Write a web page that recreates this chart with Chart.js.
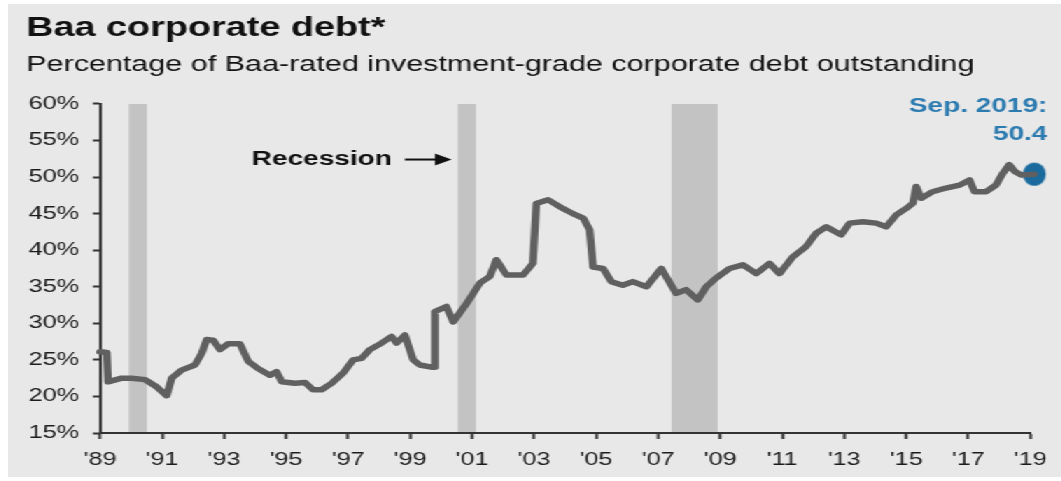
<!DOCTYPE html>
<html>
<head>
<meta charset="utf-8">
<script src="https://cdn.jsdelivr.net/npm/chart.js@4"></script>
<style>
  html, body { margin: 0; padding: 0; background: #fff; }
  body { width: 1061px; height: 481px; overflow: hidden; position: relative; }
  #panel {
    position: absolute; left: 8px; top: 4px;
    width: 752px; height: 473px;
    background: #e8e8e8;
    transform: scaleX(1.4); transform-origin: 0 0;
  }
</style>
</head>
<body>
<div id="panel"><canvas id="chart"></canvas></div>
<script>
// Baa share of investment-grade corporate debt, %
const years = [1989.00, 1989.22, 1989.26, 1989.70, 1990.02, 1990.45, 1990.83, 1991.15, 1991.31, 1991.63,
  1992.06, 1992.28, 1992.44, 1992.65, 1992.87, 1993.13, 1993.51, 1993.78, 1994.10, 1994.48,
  1994.69, 1994.86, 1995.28, 1995.61, 1995.87, 1996.14, 1996.47, 1996.84, 1997.16, 1997.43,
  1997.70, 1998.08, 1998.40, 1998.56, 1998.83, 1999.10, 1999.31, 1999.69, 1999.76, 1999.80,
  2000.17, 2000.39, 2000.82, 2001.25, 2001.57, 2001.78, 2002.11, 2002.64, 2002.96, 2003.07,
  2003.45, 2003.93, 2004.25, 2004.58, 2004.79, 2004.90, 2005.22, 2005.49, 2005.86, 2006.18,
  2006.62, 2007.10, 2007.58, 2007.90, 2008.28, 2008.55, 2008.87, 2009.30, 2009.73, 2010.16,
  2010.59, 2010.91, 2011.34, 2011.77, 2012.09, 2012.42, 2012.90, 2013.17, 2013.60, 2014.03,
  2014.35, 2014.67, 2014.99, 2015.21, 2015.32, 2015.48, 2015.85, 2016.28, 2016.72, 2017.04,
  2017.20, 2017.57, 2017.89, 2018.11, 2018.32, 2018.49, 2018.70, 2019.13];
const baaShare = [26.1, 26.0, 22.0, 22.5, 22.5, 22.3, 21.3, 20.1, 22.5, 23.6,
  24.3, 25.9, 27.8, 27.7, 26.4, 27.2, 27.2, 24.8, 23.8, 22.9,
  23.4, 22.0, 21.8, 21.9, 20.9, 20.9, 21.8, 23.2, 25.0, 25.2,
  26.4, 27.3, 28.2, 27.3, 28.4, 25.0, 24.3, 24.0, 24.0, 31.6,
  32.3, 30.2, 32.7, 35.5, 36.4, 38.7, 36.6, 36.6, 38.2, 46.4,
  46.9, 45.7, 45.0, 44.4, 42.8, 37.7, 37.5, 35.7, 35.2, 35.7,
  35.0, 37.5, 34.1, 34.6, 33.2, 35.0, 36.2, 37.5, 38.0, 36.8,
  38.2, 36.8, 39.1, 40.5, 42.3, 43.2, 42.1, 43.7, 43.9, 43.7,
  43.2, 44.8, 45.7, 46.4, 48.7, 47.1, 48.0, 48.5, 48.9, 49.6,
  48.0, 48.0, 48.9, 50.5, 51.7, 50.8, 50.3, 50.4];

// recession shading, start / end in fractional years
const recessionStart = [1989.93, 2000.54, 2007.43];
const recessionEnd = [1990.51, 2001.12, 2008.92];

const tickYears = [1989, 1991, 1993, 1995, 1997, 1999, 2001, 2003, 2005, 2007, 2009, 2011, 2013, 2015, 2017, 2019];
const endLabel = 'Sep. 2019:';

const SX = 1.4; // panel is stretched horizontally by this factor
const FONT = '"Liberation Sans", Arial, sans-serif';
const BLUE = '#2c7bb0';

// round dot after the horizontal stretch -> narrow ellipse before it
function makeDot(d) {
  const c = document.createElement('canvas');
  c.width = Math.round(d / SX) + 2;
  c.height = d + 2;
  const g = c.getContext('2d');
  g.fillStyle = '#1a6a9e';
  g.beginPath();
  g.ellipse(c.width / 2, c.height / 2, d / SX / 2, d / 2, 0, 0, Math.PI * 2);
  g.fill();
  return c;
}

const last = years.length - 1;

const notes = {
  id: 'notes',
  beforeDatasetsDraw(chart) {
    const {ctx, chartArea, scales: {x, y}} = chart;
    ctx.save();
    ctx.fillStyle = '#c3c3c3';
    const top = y.getPixelForValue(60);
    recessionStart.forEach((s, i) => {
      const x0 = x.getPixelForValue(s);
      const x1 = x.getPixelForValue(recessionEnd[i]);
      ctx.fillRect(x0, top, x1 - x0, chartArea.bottom - 1 - top);
    });
    ctx.restore();
  },
  afterDatasetsDraw(chart) {
    const {ctx, scales: {x, y}} = chart;
    ctx.save();
    // "Recession" pointer
    const ry = y.getPixelForValue(52.4);
    ctx.fillStyle = '#111';
    ctx.strokeStyle = '#111';
    ctx.font = 'bold 20px ' + FONT;
    ctx.textAlign = 'right';
    ctx.textBaseline = 'middle';
    ctx.fillText('Recession', x.getPixelForValue(1998.41), ry);
    const a0 = x.getPixelForValue(1998.83);
    const a1 = x.getPixelForValue(2000.34);
    ctx.lineWidth = 2;
    ctx.beginPath();
    ctx.moveTo(a0, ry);
    ctx.lineTo(a1 - 8, ry);
    ctx.stroke();
    ctx.beginPath();
    ctx.moveTo(a1, ry);
    ctx.lineTo(a1 - 12, ry - 6);
    ctx.lineTo(a1 - 12, ry + 6);
    ctx.closePath();
    ctx.fill();

    // latest value callout
    const px = x.getPixelForValue(years[last]);
    const py = y.getPixelForValue(baaShare[last]);
    ctx.fillStyle = BLUE;
    ctx.font = 'bold 20px ' + FONT;
    ctx.fillText(endLabel, px + 9.3, py - 68);
    ctx.fillText(baaShare[last].toFixed(1), px + 9.3, py - 40);
    ctx.restore();
  }
};

new Chart(document.getElementById('chart'), {
  type: 'line',
  data: {
    datasets: [{
      data: years.map((yr, i) => ({x: yr, y: baaShare[i]})),
      borderColor: '#606060',
      borderWidth: 5.5,
      borderJoinStyle: 'round',
      borderCapStyle: 'round',
      pointRadius: 0,
      tension: 0,
      clip: false
    }, {
      data: [{x: years[last], y: baaShare[last]}],
      pointStyle: makeDot(23),
      pointRadius: 11,
      showLine: false,
      clip: false
    }]
  },
  options: {
    responsive: true,
    maintainAspectRatio: false,
    animation: false,
    layout: {padding: {left: 13, right: 21.3, top: 0, bottom: 0}},
    plugins: {
      legend: {display: false},
      tooltip: {enabled: false},
      title: {
        display: true,
        text: 'Baa corporate debt*',
        align: 'start',
        color: '#111',
        font: {family: FONT, size: 27, weight: 'bold'},
        padding: {top: 8, bottom: 0}
      },
      subtitle: {
        display: true,
        text: 'Percentage of Baa-rated investment-grade corporate debt outstanding',
        align: 'start',
        color: '#111',
        font: {family: FONT, size: 21.8},
        padding: {top: 7.4, bottom: 26}
      }
    },
    scales: {
      x: {
        type: 'linear',
        min: 1989,
        max: 2019,
        afterBuildTicks(scale) {
          scale.ticks = tickYears.map(v => ({value: v}));
        },
        afterFit(scale) { scale.height = 44; },
        ticks: {
          color: '#1c1c1c',
          font: {family: FONT, size: 18},
          padding: 10,
          maxRotation: 0,
          autoSkip: false,
          callback: v => "'" + String(v).slice(2)
        },
        grid: {drawOnChartArea: false, drawTicks: true, tickLength: 6, tickColor: '#333', tickWidth: 2},
        border: {display: true, color: '#333', width: 2}
      },
      y: {
        min: 15,
        max: 60,
        afterFit(scale) { scale.width = 52.7; },
        ticks: {
          stepSize: 5,
          color: '#1c1c1c',
          font: {family: FONT, size: 18},
          padding: 10,
          callback: v => v + '%'
        },
        grid: {drawOnChartArea: false, drawTicks: true, tickLength: 5, tickColor: '#333', tickWidth: 2},
        border: {display: true, color: '#333', width: 2}
      }
    }
  },
  plugins: [notes]
});
</script>
</body>
</html>
